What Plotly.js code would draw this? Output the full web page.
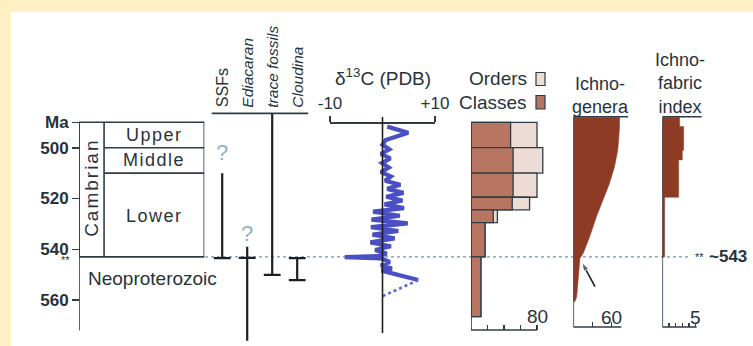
<!DOCTYPE html>
<html><head><meta charset="utf-8">
<script src="https://cdn.plot.ly/plotly-3.0.1.min.js"></script>
<style>html,body{margin:0;padding:0;background:#fdf0c3;} #chart{width:753px;height:346px;}</style>
</head><body><div id="chart"></div>
<script>
// ================= DATA =================
const maTickVals = [490, 500, 520, 540, 560];
const maTickText = ['Ma', '500', '520', '540', '560'];
const maMinorTicks = [543, 570];

const periodNames = ['Upper', 'Middle', 'Lower'];
const periodTop = [490, 500, 510];
const periodBase = [500, 510, 543];
const systemName = 'Cambrian';
const belowName = 'Neoproterozoic';
const boundaryMa = 543;

const rangeTaxa = ['SSFs', 'Ediacaran', 'trace fossils', 'Cloudina'];
const rangeItalic = [false, true, true, true];
const rangeFirst = [510.1, 539.0, 486.5, 543.5];
const rangeLast = [543.5, 576.0, 550.1, 552.1];
const capTaxon = [0, 1, 2, 3, 3];
const capMa = [543.5, 543.4, 550.1, 543.5, 552.1];
const queryTaxon = [0, 1];
const queryMa = [502.8, 534.4];

const d13cMa = [491.7, 494.1, 497.0, 498.8, 500.6, 502.4, 504.2, 506.0, 507.8, 509.6, 511.3, 513.0, 514.6, 516.2, 517.8, 519.3, 520.8, 522.3, 523.8, 525.2, 526.8, 528.3, 529.8, 531.3, 532.8, 534.2, 535.7, 537.3, 538.8, 540.3, 541.7, 542.7, 543.1, 543.6, 545.0, 546.4, 547.6, 548.4, 552.1];
const d13cVal = [0.9, 4.9, 0.6, 0.0, 1.3, -0.3, 1.5, -0.1, 1.2, -0.3, 1.6, 0.5, 3.4, 0.9, 4.0, 0.7, 3.8, 0.4, 4.1, -1.8, 3.3, -2.1, 4.8, -2.2, 3.0, -1.9, 2.3, -2.3, 1.6, -1.4, 0.8, -0.9, -7.2, -0.3, 1.4, -0.3, 1.8, -0.2, 6.8];
const d13cDotMa = [552.1, 558.7];
const d13cDotVal = [6.8, -0.2];

const binTop = [490, 500, 510, 519.5, 524.5, 529.5, 543];
const binBase = [500, 510, 519.5, 524.5, 529.5, 543, 566.5];
const classesCount = [48, 51, 51, 50, 27, 17, 12];
const ordersCount = [80, 87, 80, 71, 32, 17, 12];

const ichnoGenMa = [488, 493, 500.9, 507.5, 514, 520.6, 527.2, 535, 541.6, 543.5, 550.8, 558.7, 560.6, 560.6];
const ichnoGenVal = [72.4, 72, 69.5, 64.4, 56.6, 46.3, 36.1, 25.7, 15.5, 10.4, 7.8, 5.3, 2.6, 0];

const fabricTop = [488, 491.7, 501, 504.8, 519.5];
const fabricBase = [491.7, 501, 504.8, 519.5, 543];
const fabricIndex = [2.6, 3.2, 3.0, 2.45, 0.35];

// ================= LAYOUT HELPERS =================
const W = 753, H = 346;
const FONT = 'Liberation Sans, Arial, sans-serif';
const INK = '#26333c';
const LINE = '#2e3c45';
const pxToMa = p => 490 + (p - 122.3) / 2.54;
const yTopMa = pxToMa(0), yBotMa = pxToMa(H);
const fracOfMa = m => (yBotMa - m) / (yBotMa - yTopMa);
const fx = x => x / W;
const fy = p => 1 - p / H;

const axisBottomBars = pxToMa(330);
const axisBottomIchno = pxToMa(327);
const panelTopIchno = pxToMa(116.7);

// ================= TRACES =================
const traces = [];

const rlx = [], rly = [];
rangeTaxa.forEach((t, i) => { rlx.push(i, i, null); rly.push(rangeFirst[i], rangeLast[i], null); });
traces.push({x: rlx, y: rly, xaxis: 'x2', yaxis: 'y', mode: 'lines', line: {color: '#1f1f1f', width: 2.2}, hoverinfo: 'skip'});
traces.push({x: capTaxon, y: capMa, xaxis: 'x2', yaxis: 'y', mode: 'markers',
  marker: {symbol: 'line-ew', size: 12, line: {color: '#1f1f1f', width: 2.2}}, hoverinfo: 'skip'});
traces.push({x: queryTaxon, y: queryMa, xaxis: 'x2', yaxis: 'y', mode: 'text', text: queryTaxon.map(() => '?'),
  textfont: {family: FONT, size: 22, color: '#8fb2cb'}, textposition: 'middle center', hoverinfo: 'skip'});

traces.push({x: d13cVal, y: d13cMa, xaxis: 'x3', yaxis: 'y', mode: 'lines',
  line: {color: '#4a4fc4', width: 4.2}, hoverinfo: 'skip'});
traces.push({x: d13cDotVal, y: d13cDotMa, xaxis: 'x3', yaxis: 'y', mode: 'lines',
  line: {color: '#5a66d0', width: 2.5, dash: 'dot'}, hoverinfo: 'skip'});

const binMid = binTop.map((t, i) => (t + binBase[i]) / 2);
const binWidth = binTop.map((t, i) => binBase[i] - t);
traces.push({type: 'bar', orientation: 'h', x: ordersCount, y: binMid, width: binWidth, base: 0,
  xaxis: 'x4', yaxis: 'y', marker: {color: '#eddcd6', line: {color: LINE, width: 1.3}}, hoverinfo: 'skip'});
traces.push({type: 'bar', orientation: 'h', x: classesCount, y: binMid, width: binWidth, base: 0,
  xaxis: 'x4', yaxis: 'y', marker: {color: '#b87562', line: {color: LINE, width: 1.3}}, hoverinfo: 'skip'});

traces.push({x: ichnoGenVal, y: ichnoGenMa, xaxis: 'x5', yaxis: 'y', mode: 'lines', fill: 'tozerox',
  fillcolor: '#8d3b25', line: {color: '#8d3b25', width: 0.5}, hoverinfo: 'skip'});

const fxv = [], fyv = [];
fabricIndex.forEach((v, i) => { fxv.push(v, v); fyv.push(fabricTop[i], fabricBase[i]); });
fxv.push(0); fyv.push(fabricBase[fabricBase.length - 1]);
traces.push({x: fxv, y: fyv, xaxis: 'x6', yaxis: 'y', mode: 'lines', fill: 'tozerox',
  fillcolor: '#8d3b25', line: {color: '#8d3b25', width: 0.5}, hoverinfo: 'skip'});

// arrow pointing at the 543 Ma level on the ichnogenera curve
traces.push({x: [33.9, 13.6], y: [554.7, 545.2], xaxis: 'x5', yaxis: 'y', mode: 'lines+markers',
  line: {color: '#1f1f1f', width: 1.6},
  marker: {symbol: ['circle', 'arrow'], size: [0, 9], angleref: 'previous', color: '#1f1f1f'}, hoverinfo: 'skip'});

// ================= SHAPES =================
const shapes = [];
shapes.push({type: 'rect', xref: 'paper', yref: 'paper', x0: fx(11), x1: 1, y0: 0, y1: fy(12),
  fillcolor: '#ffffff', line: {width: 0}, layer: 'below'});
const ln = (xref, x0, x1, y0, y1, extra) => Object.assign({type: 'line', xref: xref, yref: 'y', x0, x1, y0, y1,
  line: {color: LINE, width: 1.6}}, extra || {});
shapes.push({type: 'rect', xref: 'x', yref: 'y', x0: 0, x1: 1, y0: periodTop[0], y1: boundaryMa, line: {color: LINE, width: 1.6}});
shapes.push(ln('x', 0.2, 0.2, periodTop[0], boundaryMa));
periodTop.slice(1).forEach(t => shapes.push(ln('x', 0.2, 1, t, t)));
shapes.push(ln('x', 0, 0, periodTop[0], pxToMa(330.6)));
maMinorTicks.forEach(t => shapes.push(ln('x', -7 / 125.3, 0, t, t)));
shapes.push({type: 'line', xref: 'paper', yref: 'y', x0: fx(205), x1: fx(688), y0: boundaryMa, y1: boundaryMa,
  line: {color: '#6f95b0', width: 1.3, dash: 'dot'}, layer: 'below'});
shapes.push(ln('x2', -0.42, 3.44, 486.5, 486.5));
shapes.push(ln('x3', 0, 0, pxToMa(117), pxToMa(333), {line: {color: '#1f1f1f', width: 1.6}}));
shapes.push(ln('x4', 0, 0, binTop[0], axisBottomBars));
shapes.push(ln('x4', 0, 80, axisBottomBars, axisBottomBars));
shapes.push(ln('x5', 0, 85.6, panelTopIchno, panelTopIchno));
shapes.push(ln('x5', 0, 0, panelTopIchno, axisBottomIchno));
shapes.push(ln('x5', 0, 75, axisBottomIchno, axisBottomIchno));
shapes.push(ln('x6', 0, 5.9, panelTopIchno, panelTopIchno));
shapes.push(ln('x6', 0, 0, panelTopIchno, axisBottomIchno));
shapes.push(ln('x6', 0, 5.15, axisBottomIchno, axisBottomIchno));
shapes.push({type: 'rect', xref: 'paper', yref: 'paper', x0: fx(536), x1: fx(545), y0: fy(85.5), y1: fy(72.5),
  fillcolor: '#eddcd6', line: {color: LINE, width: 1.2}});
shapes.push({type: 'rect', xref: 'paper', yref: 'paper', x0: fx(536), x1: fx(545), y0: fy(109), y1: fy(95.5),
  fillcolor: '#b87562', line: {color: LINE, width: 1.2}});

// ================= ANNOTATIONS =================
const ann = [];
const A = (o) => ann.push(Object.assign({showarrow: false, xanchor: 'center', yanchor: 'middle',
  font: {family: FONT, size: 18, color: INK}}, o));
periodNames.forEach((n, i) => A({xref: 'x', yref: 'y', x: 0.6, y: (periodTop[i] + periodBase[i]) / 2 + (i === 2 ? 0.5 : 0),
  text: '<span style="letter-spacing:1.5px">' + n + '</span>'}));
A({xref: 'x', yref: 'y', x: 0.1, y: (periodTop[0] + boundaryMa) / 2 - 0.5, textangle: -90,
  text: '<span style="letter-spacing:2px">' + systemName + '</span>', font: {family: FONT, size: 19, color: INK}});
A({xref: 'x', yref: 'y', x: 0.59, y: pxToMa(278.5), text: belowName, font: {family: FONT, size: 19, color: INK}});
rangeTaxa.forEach((t, i) => A({xref: 'x2', yref: 'y', x: i, y: pxToMa(109.5), yanchor: 'bottom', textangle: -90,
  text: rangeItalic[i] ? '<i>' + t + '</i>' : t, font: {family: FONT, size: i === 0 ? 16 : 15.5, color: INK}}));
A({xref: 'x3', yref: 'y', x: 0, y: pxToMa(77), text: 'δ<sup>13</sup>C (PDB)', font: {family: FONT, size: 19, color: INK}});
A({xref: 'paper', yref: 'paper', x: fx(529), y: fy(79), xanchor: 'right', text: 'Orders', font: {family: FONT, size: 19, color: INK}});
A({xref: 'paper', yref: 'paper', x: fx(529), y: fy(102), xanchor: 'right', text: 'Classes', font: {family: FONT, size: 19, color: INK}});
A({xref: 'x5', yref: 'y', x: 42, y: pxToMa(95), text: 'Ichno-<br>genera', font: {family: FONT, size: 18, color: INK}});
A({xref: 'x6', yref: 'y', x: 2.7, y: pxToMa(83), text: 'Ichno-<br>fabric<br>index', font: {family: FONT, size: 18, color: INK}});
A({xref: 'x4', yref: 'y', x: 80, y: pxToMa(316.5), text: '80', font: {family: FONT, size: 19, color: INK}});
A({xref: 'x5', yref: 'y', x: 60, y: pxToMa(317), text: '60', font: {family: FONT, size: 19, color: INK}});
A({xref: 'x6', yref: 'y', x: 5, y: pxToMa(317), text: '5', font: {family: FONT, size: 19, color: INK}});
A({xref: 'paper', yref: 'y', x: fx(65), y: pxToMa(260), text: '**', font: {family: FONT, size: 11, color: INK}});
A({xref: 'paper', yref: 'y', x: fx(699), y: boundaryMa, text: '**', font: {family: FONT, size: 11, color: INK}});
A({xref: 'paper', yref: 'y', x: fx(707), xanchor: 'left', y: boundaryMa, text: '<b>~543</b>', font: {family: FONT, size: 17, color: INK}});

// ================= AXES =================
const hidden = {visible: false, anchor: 'y', showgrid: false, zeroline: false};
const layout = {
  width: W, height: H, margin: {l: 0, r: 0, t: 0, b: 0},
  paper_bgcolor: '#fdf0c3', plot_bgcolor: 'rgba(0,0,0,0)', showlegend: false,
  barmode: 'overlay', bargap: 0,
  font: {family: FONT, color: INK},
  yaxis: {domain: [0, 1], range: [yBotMa, yTopMa], anchor: 'free', position: fx(79), side: 'left',
    showline: false, showgrid: false, zeroline: false, ticks: 'outside', ticklen: 7, tickwidth: 1.6, tickcolor: LINE,
    tickvals: maTickVals, ticktext: maTickText, tickfont: {family: FONT, size: 17, color: INK, weight: 'bold'}},
  xaxis: Object.assign({domain: [fx(79), fx(204.3)], range: [0, 1]}, hidden),
  xaxis2: Object.assign({domain: [fx(209.7), fx(309.7)], range: [-0.5, 3.5]}, hidden),
  xaxis3: {domain: [fx(330), fx(435)], range: [-10, 10], side: 'top', anchor: 'free', position: fracOfMa(pxToMa(122)),
    showline: true, linecolor: LINE, linewidth: 1.6, showgrid: false, zeroline: false,
    ticks: 'outside', ticklen: 6, tickwidth: 1.6, tickcolor: LINE, tickvals: [-10, 10], ticktext: ['-10', '+10'],
    tickfont: {family: FONT, size: 17, color: INK}},
  xaxis4: {domain: [fx(471), fx(545)], range: [0, 74 / 0.825], anchor: 'free', position: fracOfMa(axisBottomBars),
    showline: false, showgrid: false, zeroline: false, ticks: 'inside', ticklen: 5, tickwidth: 1.4, tickcolor: LINE,
    tickvals: [20, 40, 60, 80], showticklabels: false},
  xaxis5: {domain: [fx(573.3), fx(628.1)], range: [0, 54.8 / 0.64], anchor: 'free', position: fracOfMa(axisBottomIchno),
    showline: false, showgrid: false, zeroline: false, ticks: 'inside', ticklen: 5, tickwidth: 1.4, tickcolor: LINE,
    tickvals: [30, 60], showticklabels: false},
  xaxis6: {domain: [fx(662.3), fx(702.3)], range: [0, 6], anchor: 'free', position: fracOfMa(axisBottomIchno),
    showline: false, showgrid: false, zeroline: false, ticks: 'inside', ticklen: 4, tickwidth: 1.2, tickcolor: LINE,
    tickvals: [1, 2, 3, 4, 5], showticklabels: false},
  shapes: shapes,
  annotations: ann
};

Plotly.newPlot('chart', traces, layout, {staticPlot: true});
</script>
</body></html>
